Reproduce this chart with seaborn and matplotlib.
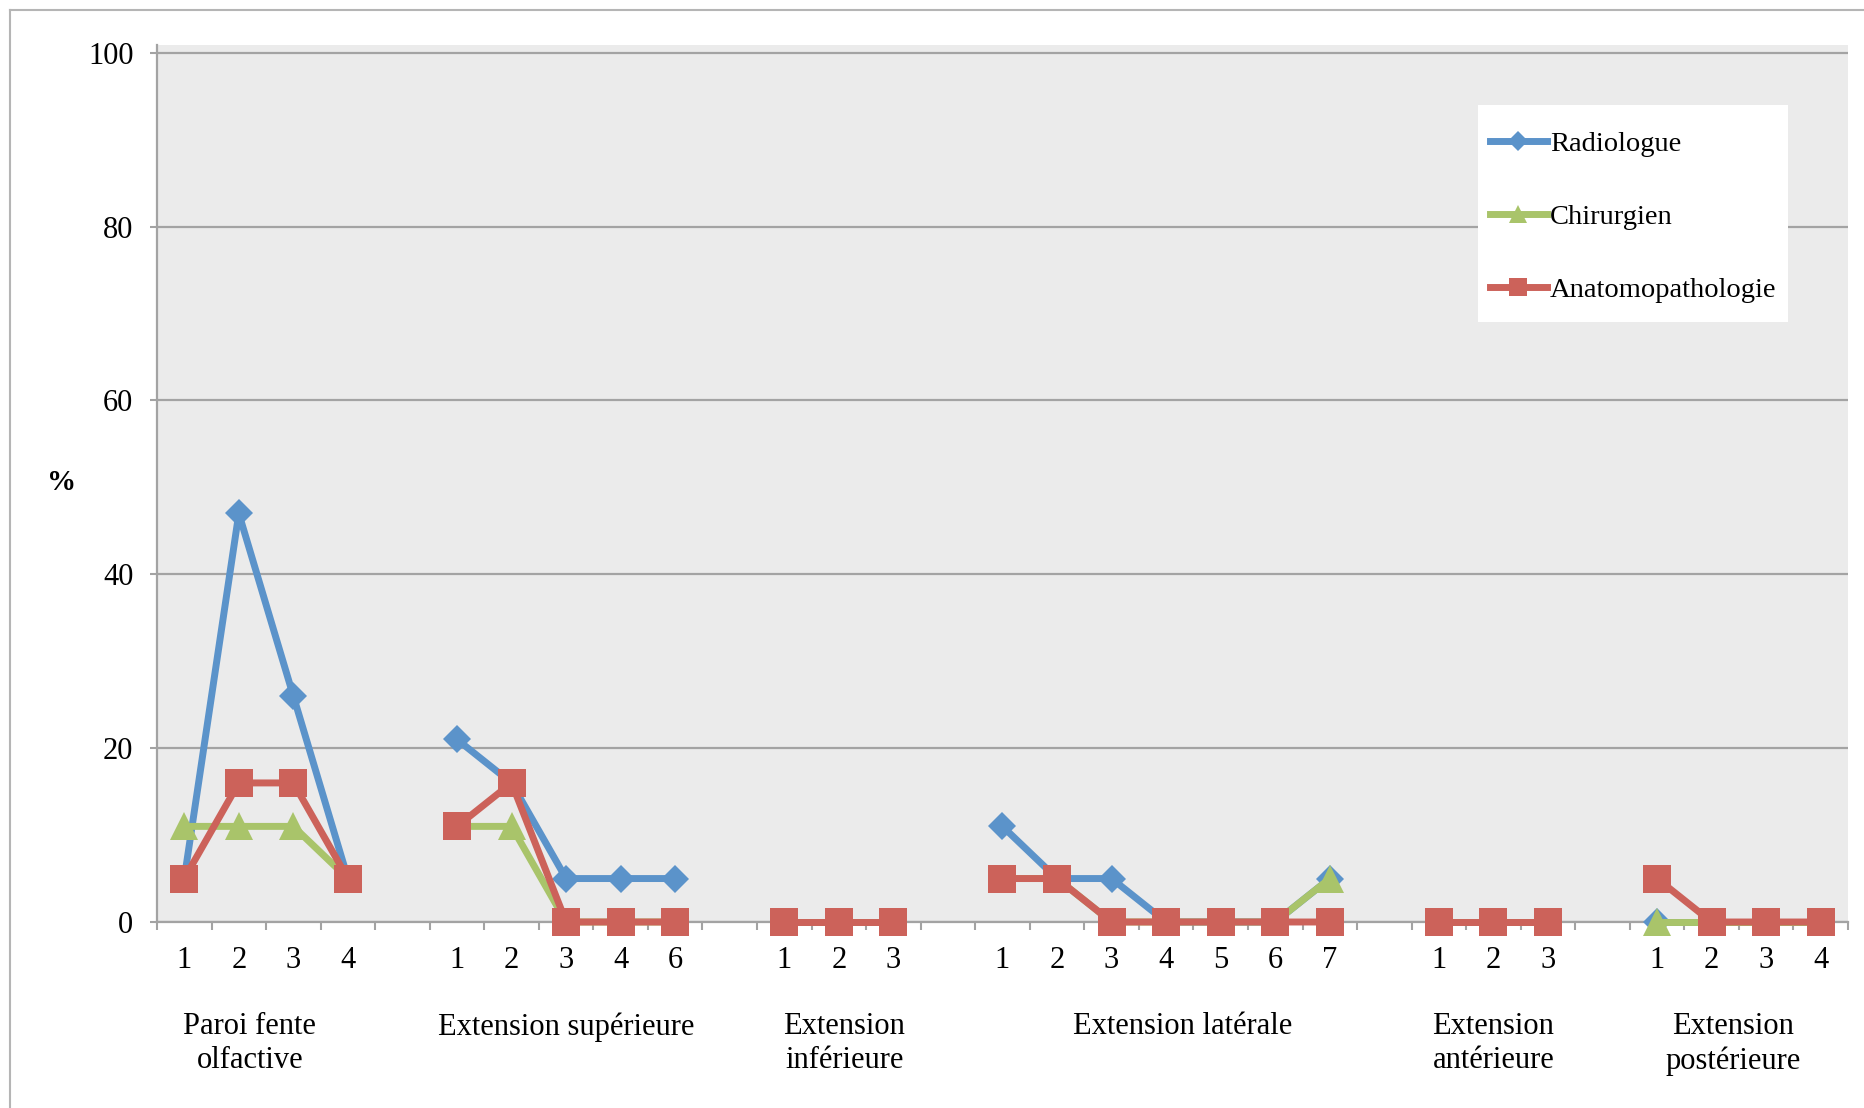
import pandas as pd
import seaborn as sns
import matplotlib.pyplot as plt
from matplotlib.lines import Line2D
from matplotlib.patches import Rectangle
import numpy as np

# Groups of the category axis, and the sub-category labels inside each group
groups = ["Paroi fente\nolfactive", "Extension supérieure", "Extension\ninférieure",
          "Extension latérale", "Extension\nantérieure", "Extension\npostérieure"]
group_ticks = [["1", "2", "3", "4"],
               ["1", "2", "3", "4", "6"],
               ["1", "2", "3"],
               ["1", "2", "3", "4", "5", "6", "7"],
               ["1", "2", "3"],
               ["1", "2", "3", "4"]]

# Percentages, one list per group
radiologue = [[5, 47, 26, 5], [21, 16, 5, 5, 5], [0, 0, 0],
              [11, 5, 5, 0, 0, 0, 5], [0, 0, 0], [0, 0, 0, 0]]
chirurgien = [[11, 11, 11, 5], [11, 11, 0, 0, 0], [0, 0, 0],
              [5, 5, 0, 0, 0, 0, 5], [0, 0, 0], [0, 0, 0, 0]]
anatomo = [[5, 16, 16, 5], [11, 16, 0, 0, 0], [0, 0, 0],
           [5, 5, 0, 0, 0, 0, 0], [0, 0, 0], [5, 0, 0, 0]]

series_names = ["Radiologue", "Chirurgien", "Anatomopathologie"]
colors = ["#5B93CA", "#A9C46A", "#CC625A"]
markers = ["D", "^", "s"]
marker_sizes = [14.5, 19.5, 19.5]

# Long table: one empty category is left after each group (Excel style gap)
rows = []
tick_pos, tick_lab, group_center = [], [], []
pos = 0
for g, labs in enumerate(group_ticks):
    start = pos
    for k, lab in enumerate(labs):
        tick_pos.append(pos)
        tick_lab.append(lab)
        for name, vals in zip(series_names, [radiologue, chirurgien, anatomo]):
            rows.append({"pos": pos, "pct": vals[g][k], "serie": name, "groupe": g})
        pos += 1
    group_center.append((start + pos - 1) / 2)
    pos += 1
n_cat = pos - 1
df = pd.DataFrame(rows)

plt.rcParams['font.family'] = ['Liberation Serif', 'DejaVu Serif']
plt.rcParams['font.size'] = 22

grey = "#A3A3A3"
fig = plt.figure(figsize=(18.65, 11.08), dpi=100)
ax = fig.add_axes([157 / 1865, 1 - 922 / 1108, (1848 - 157) / 1865, (922 - 45) / 1108])
ax.set_facecolor("#EBEBEB")

# one call per series so each gets its own marker and size; last one on top
for name, col, mk, ms in zip(series_names, colors, markers, marker_sizes):
    sub = df[df["serie"] == name]
    sns.lineplot(data=sub, x="pos", y="pct", units="groupe", estimator=None,
                 color=col, marker=mk, markersize=ms, markeredgewidth=0,
                 linewidth=5, clip_on=False, zorder=3, legend=False, ax=ax)

ax.set_xlim(-0.5, n_cat - 0.5)
ax.set_ylim(0, 100.9)
ax.set_yticks(range(0, 101, 20))
ax.yaxis.grid(True, color=grey, linewidth=1.6)
ax.set_axisbelow(True)
for s in ["top", "right"]:
    ax.spines[s].set_visible(False)
for s in ["left", "bottom"]:
    ax.spines[s].set_color(grey)
    ax.spines[s].set_linewidth(1.6)

ax.set_xticks(tick_pos)
ax.set_xticklabels(tick_lab)
ax.set_xticks(np.arange(-0.5, n_cat, 1), minor=True)
ax.tick_params(axis="x", which="major", length=0, pad=17, labelsize=22)
ax.tick_params(axis="x", which="minor", length=6, width=1.5, color=grey)
ax.tick_params(axis="y", length=5, width=1.5, color=grey, pad=12, labelsize=22)
ax.set_xlabel("")
ax.set_ylabel("")

# group labels under the numbers (Excel wraps/centres them slightly off-centre)
label_shift = [-0.3, 0, 0.1, 0.3, 0, -0.1]
for c, d, lab in zip(group_center, label_shift, groups):
    ax.text(c + d, -0.103, lab, transform=ax.get_xaxis_transform(), ha="center",
            va="top", fontsize=22, linespacing=1.22)

fig.text(62 / 1865, 1 - 482 / 1108, "%", ha="center", va="center",
         fontsize=21, fontweight="bold")

# legend: white box behind, entries placed inside
ax.add_patch(Rectangle((0.7812, 0.6842), 0.9645 - 0.7812, 0.9316 - 0.6842,
                       transform=ax.transAxes, facecolor="white", edgecolor="none",
                       zorder=4, clip_on=False))
handles = [Line2D([], [], color=c, marker=m, linewidth=5, markersize=s * 0.67,
                  markeredgewidth=0, label=n)
           for n, c, m, s in zip(series_names, colors, markers, marker_sizes)]
leg = ax.legend(handles=handles, loc="upper left", bbox_to_anchor=(0.7883, 0.902),
                frameon=False, fontsize=20.5, labelspacing=1.65, handlelength=2.0,
                handletextpad=0.1, borderpad=0, borderaxespad=0)
leg.set_zorder(5)

# outer chart frame (cut off on the right and bottom)
fig.add_artist(Line2D([10 / 1865, 10 / 1865], [0, 1 - 10 / 1108],
                      transform=fig.transFigure, color="#B5B5B5", linewidth=1.5))
fig.add_artist(Line2D([10 / 1865, 1], [1 - 10 / 1108, 1 - 10 / 1108],
                      transform=fig.transFigure, color="#B5B5B5", linewidth=1.5))

fig.savefig("out.png", dpi=100)
